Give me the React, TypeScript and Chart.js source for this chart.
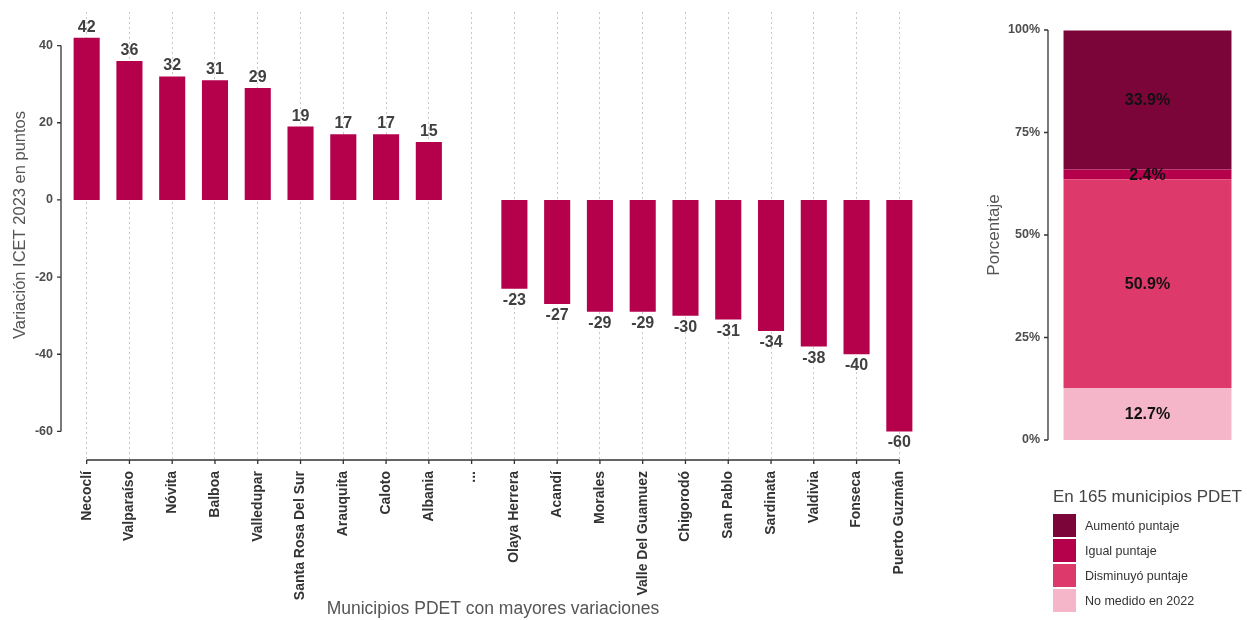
import React, { useEffect, useRef } from "react";
import { Chart, registerables } from "chart.js";

Chart.register(...registerables);

const FONT = "'Liberation Sans', Arial, Helvetica, sans-serif";

// ---------- data: left chart ----------
const municipios = [
  "Necoclí",
  "Valparaíso",
  "Nóvita",
  "Balboa",
  "Valledupar",
  "Santa Rosa Del Sur",
  "Arauquita",
  "Caloto",
  "Albania",
  "...",
  "Olaya Herrera",
  "Acandí",
  "Morales",
  "Valle Del Guamuez",
  "Chigorodó",
  "San Pablo",
  "Sardinata",
  "Valdivia",
  "Fonseca",
  "Puerto Guzmán",
];
const variaciones: (number | null)[] = [
  42, 36, 32, 31, 29, 19, 17, 17, 15, null, -23, -27, -29, -29, -30, -31, -34, -38, -40, -60,
];
const variacionTicks = [40, 20, 0, -20, -40, -60];

// ---------- data: right chart ----------
const categoriasPdet = ["Aumentó puntaje", "Igual puntaje", "Disminuyó puntaje", "No medido en 2022"];
const porcentajesPdet = [33.9, 2.4, 50.9, 12.7];
const coloresPdet = ["#7b0539", "#b5004b", "#dd3a6b", "#f4b6c8"];
const porcentajeTicks = [0, 25, 50, 75, 100];

const BAR_COLOR = "#b5004b";
const AXIS_COLOR = "#333333";

// ---------- plugins ----------
const cappedAxesPlugin = {
  id: "cappedAxes",
  afterDraw(chart: any, _args: any, opts: any) {
    const { ctx, chartArea } = chart;
    ctx.save();
    ctx.strokeStyle = AXIS_COLOR;
    ctx.lineWidth = 1.3;
    const tick = 4;
    if (opts.yValues) {
      const ys = opts.yValues.map((v: number) => chart.scales.y.getPixelForValue(v));
      const px = chartArea.left;
      ctx.beginPath();
      ctx.moveTo(px, Math.min(...ys));
      ctx.lineTo(px, Math.max(...ys));
      ys.forEach((p: number) => {
        ctx.moveTo(px - tick, p);
        ctx.lineTo(px, p);
      });
      ctx.stroke();
    }
    if (opts.xValues) {
      const xs = opts.xValues.map((v: number) => chart.scales.x.getPixelForValue(v));
      const py = chartArea.bottom;
      ctx.beginPath();
      ctx.moveTo(Math.min(...xs), py);
      ctx.lineTo(Math.max(...xs), py);
      xs.forEach((p: number) => {
        ctx.moveTo(p, py);
        ctx.lineTo(p, py + tick);
      });
      ctx.stroke();
    }
    ctx.restore();
  },
};

const barEndLabelsPlugin = {
  id: "barEndLabels",
  afterDatasetsDraw(chart: any) {
    const { ctx } = chart;
    const meta = chart.getDatasetMeta(0);
    const ds = chart.data.datasets[0];
    ctx.save();
    ctx.font = `bold 16px ${FONT}`;
    ctx.fillStyle = "#404040";
    ctx.textAlign = "center";
    ctx.textBaseline = "alphabetic";
    meta.data.forEach((el: any, i: number) => {
      const v = ds.data[i].y;
      const txt = String(v);
      if (v >= 0) ctx.fillText(txt, el.x, el.y - 6);
      else ctx.fillText(txt, el.x, el.y + 16);
    });
    ctx.restore();
  },
};

const yTitlePlugin = {
  id: "leftYTitle",
  afterDraw(chart: any, _args: any, opts: any) {
    const { ctx } = chart;
    ctx.save();
    ctx.font = `16.5px ${FONT}`;
    ctx.fillStyle = "#555555";
    ctx.textAlign = "center";
    ctx.textBaseline = "alphabetic";
    ctx.translate(opts.x, opts.y);
    ctx.rotate(-Math.PI / 2);
    ctx.fillText(opts.text, 0, 0);
    ctx.restore();
  },
};

const segmentLabelsPlugin = {
  id: "segmentLabels",
  afterDatasetsDraw(chart: any) {
    const { ctx } = chart;
    ctx.save();
    ctx.font = `bold 16px ${FONT}`;
    ctx.fillStyle = "#111111";
    ctx.textAlign = "center";
    ctx.textBaseline = "middle";
    chart.data.datasets.forEach((ds: any, di: number) => {
      const meta = chart.getDatasetMeta(di);
      meta.data.forEach((el: any, i: number) => {
        const v = ds.data[i];
        ctx.fillText(v.toFixed(1) + "%", el.x, (el.y + el.base) / 2 + 1);
      });
    });
    ctx.restore();
  },
};

const noEdgePadding = (s: any) => {
  s.paddingTop = 0;
  s.paddingBottom = 0;
  s.paddingLeft = 0;
  s.paddingRight = 0;
};

export default function App() {
  const leftRef = useRef<HTMLCanvasElement>(null);
  const rightRef = useRef<HTMLCanvasElement>(null);

  useEffect(() => {
    document.body.style.margin = "0";

    const barPoints = variaciones
      .map((v, i) => (v === null ? null : { x: i, y: v }))
      .filter((p) => p !== null);

    const left = new Chart(leftRef.current as HTMLCanvasElement, {
      type: "bar",
      data: {
        datasets: [
          {
            data: barPoints as any,
            backgroundColor: BAR_COLOR,
            borderWidth: 0,
            barPercentage: 0.61,
            categoryPercentage: 1,
          },
        ],
      },
      options: {
        animation: false,
        responsive: false,
        maintainAspectRatio: false,
        layout: { padding: { left: 0, right: 20, top: 12, bottom: 0 } },
        plugins: {
          legend: { display: false },
          tooltip: { enabled: false },
          cappedAxes: { yValues: variacionTicks, xValues: municipios.map((_, i) => i) },
          leftYTitle: { text: "Variación ICET 2023 en puntos", x: 25, y: 225 },
        } as any,
        scales: {
          x: {
            type: "linear",
            min: -0.6,
            max: municipios.length - 0.4,
            offset: false,
            afterBuildTicks: (s: any) => {
              s.ticks = municipios.map((_, i) => ({ value: i }));
            },
            afterFit: (s: any) => {
              s.height = 160;
              noEdgePadding(s);
            },
            ticks: {
              autoSkip: false,
              maxRotation: 90,
              minRotation: 90,
              padding: 11,
              color: "#333333",
              font: { family: FONT, size: 14, weight: "bold" },
              callback: (v: any) => municipios[v] ?? "",
            },
            grid: {
              display: true,
              drawOnChartArea: true,
              drawTicks: false,
              offset: false,
              color: "#c8c8c8",
              lineWidth: 1,
            },
            border: { display: false, dash: [2, 3] },
            title: {
              display: true,
              text: "Municipios PDET con mayores variaciones",
              color: "#555555",
              font: { family: FONT, size: 17.5 },
              padding: { top: 0, bottom: 0 },
            },
          },
          y: {
            type: "linear",
            min: -67.4,
            max: 48.7,
            afterBuildTicks: (s: any) => {
              s.ticks = variacionTicks.map((v) => ({ value: v }));
            },
            afterFit: (s: any) => {
              s.width = 61;
              noEdgePadding(s);
            },
            ticks: {
              padding: 8,
              color: "#4d4d4d",
              font: { family: FONT, size: 12.5, weight: "bold" },
            },
            grid: { display: false, drawTicks: false },
            border: { display: false },
          },
        },
      },
      plugins: [cappedAxesPlugin, barEndLabelsPlugin, yTitlePlugin],
    });

    // stacked: bottom segment first
    const order = [3, 2, 1, 0];
    const right = new Chart(rightRef.current as HTMLCanvasElement, {
      type: "bar",
      data: {
        labels: [""],
        datasets: order.map((k) => ({
          label: categoriasPdet[k],
          data: [porcentajesPdet[k]],
          backgroundColor: coloresPdet[k],
          borderWidth: 0,
          barPercentage: 0.844,
          categoryPercentage: 1,
        })),
      },
      options: {
        animation: false,
        responsive: false,
        maintainAspectRatio: false,
        layout: { padding: { left: 0, right: 0, top: 9.5, bottom: 159.5 } },
        plugins: {
          legend: { display: false },
          tooltip: { enabled: false },
          cappedAxes: { yValues: porcentajeTicks },
        } as any,
        scales: {
          x: { stacked: true, display: false },
          y: {
            stacked: true,
            min: -5,
            max: 105,
            afterBuildTicks: (s: any) => {
              s.ticks = porcentajeTicks.map((v) => ({ value: v }));
            },
            afterFit: (s: any) => {
              s.width = 103;
              noEdgePadding(s);
            },
            ticks: {
              padding: 8,
              color: "#4d4d4d",
              font: { family: FONT, size: 12.5, weight: "bold" },
              callback: (v: any) => `${v}%`,
            },
            grid: { display: false, drawTicks: false },
            border: { display: false },
            title: {
              display: true,
              text: "Porcentaje",
              color: "#555555",
              font: { family: FONT, size: 17 },
              padding: { top: 39, bottom: 0 },
            },
          },
        },
      },
      plugins: [cappedAxesPlugin, segmentLabelsPlugin],
    });

    return () => {
      left.destroy();
      right.destroy();
    };
  }, []);

  return (
    <div
      style={{
        position: "absolute",
        left: 0,
        top: 0,
        width: 1247,
        height: 620,
        background: "#ffffff",
        fontFamily: FONT,
        overflow: "hidden",
      }}
    >
      <canvas
        ref={leftRef}
        width={945}
        height={620}
        style={{ position: "absolute", left: 0, top: 0, width: 945, height: 620 }}
      />
      <canvas
        ref={rightRef}
        width={302}
        height={620}
        style={{ position: "absolute", left: 945, top: 0, width: 302, height: 620 }}
      />
      <div
        style={{
          position: "absolute",
          left: 1053,
          top: 487,
          fontSize: 17,
          lineHeight: "20px",
          color: "#444444",
          whiteSpace: "nowrap",
        }}
      >
        En 165 municipios PDET
      </div>
      {categoriasPdet.map((c, i) => (
        <div
          key={c}
          style={{
            position: "absolute",
            left: 1053,
            top: 514 + 25 * i,
            height: 23,
            display: "flex",
            alignItems: "center",
            whiteSpace: "nowrap",
          }}
        >
          <span style={{ width: 23, height: 23, background: coloresPdet[i], display: "inline-block" }} />
          <span style={{ marginLeft: 9, fontSize: 12.5, color: "#333333" }}>{c}</span>
        </div>
      ))}
    </div>
  );
}
